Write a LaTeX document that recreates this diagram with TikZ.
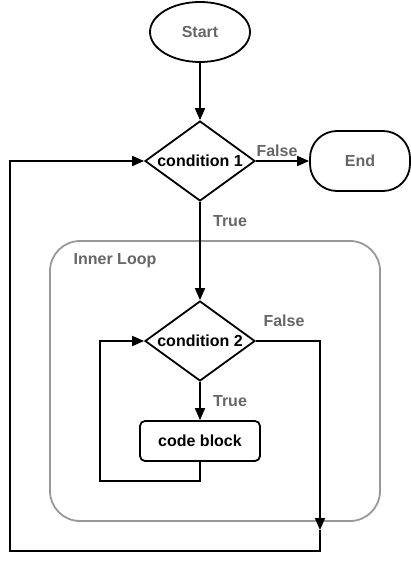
\documentclass[tikz,border=0pt]{standalone}
\usepackage{fontspec}
\setmainfont{Liberation Sans}
\usetikzlibrary{shapes.geometric,arrows.meta}
\definecolor{labelGray}{HTML}{666666}
\definecolor{frameGray}{HTML}{999999}

\begin{document}
\begin{tikzpicture}[x=1pt, y=-1pt,
font=\fontsize{16}{19}\selectfont\bfseries,
ellStart/.style={ellipse, draw=black, line width=1.8pt, minimum width=100pt, minimum height=60pt, text=labelGray},
rectEnd/.style={rectangle, draw=black, line width=1.8pt, minimum width=100pt, minimum height=60pt, rounded corners=27pt, text=labelGray},
diaCond/.style={diamond, draw=black, line width=1.8pt, aspect=1.375, minimum width=110pt, minimum height=80pt, inner sep=0pt},
rectCode/.style={rectangle, draw=black, line width=1.8pt, minimum width=120pt, minimum height=40pt, rounded corners=5pt},
rectLoop/.style={rectangle, draw=frameGray, line width=1.8pt, minimum width=330pt, minimum height=280pt, rounded corners=30pt},
lblText/.style={text=labelGray, inner sep=0pt},
arr/.style={-{Triangle[length=12pt,width=10pt]}, line width=1.8pt}]

\useasboundingbox (0,0) rectangle (411,562);

% inner loop frame
\node[rectLoop] (loop) at (215,381) {};
\node[lblText] (loopText) at (115,261) {Inner Loop};

\node[ellStart] (start) at (200,32) {Start};
\node[diaCond] (cond1) at (200,161) {condition 1};
\node[rectEnd] (end) at (360,161) {End};

\node[diaCond] (cond2) at (200,341) {condition 2};
\node[rectCode] (code) at (200,441) {code block};

\node[lblText] (false1) at (277,151) {False};
\node[lblText] (true1) at (230,221) {True};
\node[lblText] (false2) at (284,321) {False};
\node[lblText] (true2) at (230,401) {True};

\coordinate (exit) at (320,530);
\coordinate (outerCorner) at (10,551);
\coordinate (innerCorner) at (100,481);

\draw[arr] (start) -- (cond1);
\draw[arr] (cond1) -- (end);
\draw[arr] (cond1) -- (cond2);
\draw[arr] (cond2) -- (code);
\draw[arr] (cond2.east) -| (exit);
\draw[arr] (exit) |- (outerCorner) |- (cond1.west);
\draw[arr] (code.south) |- (innerCorner) |- (cond2.west);

\end{tikzpicture}
\end{document}
